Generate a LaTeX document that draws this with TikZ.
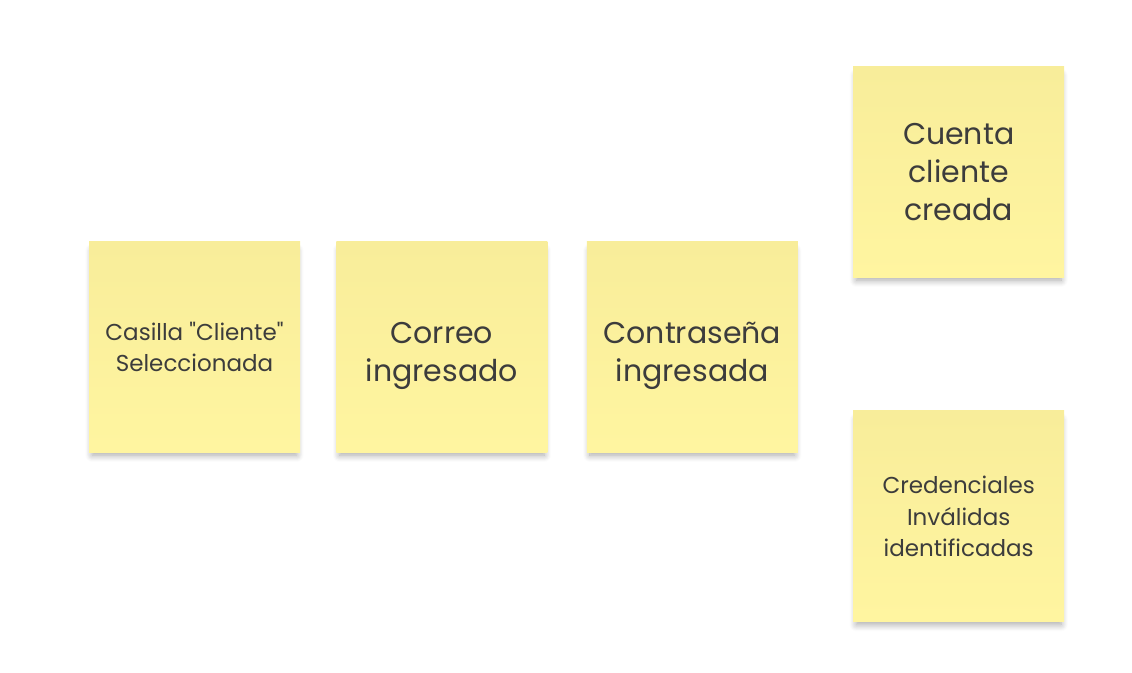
\documentclass[tikz,border=0pt]{standalone}
\usepackage{fontspec}
\setmainfont{Poppins}
\usetikzlibrary{positioning, shadows.blur}
\definecolor{notetop}{RGB}{248, 237, 154}
\definecolor{notebottom}{RGB}{255, 245, 160}
\definecolor{notetext}{RGB}{60, 60, 60}

\begin{document}
\begin{tikzpicture}[
                    x=1pt, y=-1pt,
                    note/.style={top color=notetop, bottom color=notebottom, draw=none, align=center,
                                 minimum width=211pt, minimum height=211pt, inner sep=0pt, text=notetext,
                                 blur shadow={shadow xshift=0pt, shadow yshift=-6pt, shadow blur steps=8, shadow blur radius=7pt, shadow opacity=35, shadow scale=0.97}},
                    bigtext/.style={font=\fontsize{30}{38}\selectfont},
                    smalltext/.style={font=\fontsize{23}{31.5}\selectfont},
                    twolines/.style={text height=78pt, text depth=10pt}
                ]
                \useasboundingbox (0,0) rectangle (1132,672);

                % --- Flujo principal ---
                \node[note, smalltext] (casilla) at (194.5,347) {Casilla \textquotedbl Cliente\textquotedbl \\ Seleccionada};
                \node[note, bigtext, twolines, right=36pt of casilla] (correo) {Correo \\ ingresado};
                \node[note, bigtext, twolines, right=39pt of correo] (contrasena) {Contraseña \\ ingresada};

                % --- Resultados ---
                \node[note, bigtext, right=55pt of contrasena, yshift=175pt] (cuenta) {Cuenta \\ cliente \\ creada};
                \node[note, smalltext, below=133pt of cuenta] (invalidas) {Credenciales \\ Inválidas \\ identificadas};

                \end{tikzpicture}
\end{document}
